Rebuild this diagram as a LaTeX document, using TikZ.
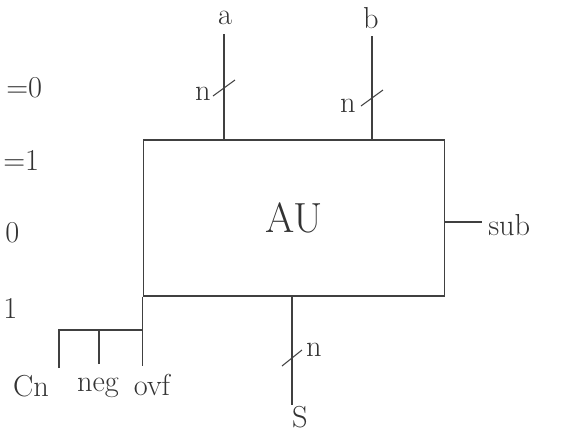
\documentclass[tikz,border=0pt]{standalone}
\usetikzlibrary{positioning}

\begin{document}
\begin{tikzpicture}[x=0.02cm,y=-0.02cm,line width=0.6pt,draw=black!75,
  lbl/.style={font=\LARGE,text=black!80,inner sep=1pt},
  unit/.style={draw,minimum width=6.04cm,minimum height=3.12cm,inner sep=0pt,
    font=\fontsize{24}{26}\selectfont,text=black!80}]
\useasboundingbox (0,0) rectangle (576,433);
% the unit
\node[unit] (au) at (294,218) {AU};
% inputs a and b
\node[lbl] (a) at (225,18) {a};
\node[lbl] (b) at (371,18) {b};
\coordinate (atop) at (224,34);
\coordinate (btop) at (372,36);
\draw (atop) -- (atop |- au.north);
\draw (btop) -- (btop |- au.north);
\coordinate (sla) at (224,88);
\coordinate (slb) at (372,98);
\draw (sla) ++(-11,8) -- ++(22,-16);
\draw (slb) ++(-11,8) -- ++(22,-16);
\node[lbl] (na) at (203,94) {n};
\node[lbl] (nb) at (348,106) {n};
% output sub
\coordinate (subend) at (482,222);
\draw (au.east |- subend) -- (subend);
\node[lbl,anchor=west] (sub) at (486,225) {sub};
% select S
\coordinate (send) at (292,405);
\draw (au.south -| send) -- (send);
\coordinate (sls) at (292,358);
\draw (sls) ++(-10,8) -- ++(20,-16);
\node[lbl] (ns) at (314,350) {n};
\node[lbl] (S) at (300,417) {S};
% flags
\coordinate (bus) at (au.south west |- 0,330);
\coordinate (cnend) at (59,368);
\coordinate (negend) at (99,364);
\coordinate (ovfend) at (au.south west |- 0,366);
\draw (au.south west) -- (ovfend);
\draw (cnend) -- (cnend |- bus) -- (bus);
\draw (negend) -- (negend |- bus);
\node[lbl] (cn) at (31,386) {Cn};
\node[lbl] (neg) at (98,388) {neg};
\node[lbl] (ovf) at (152,385) {ovf};
% notes on the left
\node[lbl,anchor=west] (eq1) at (4,88) {=0};
\node[lbl,anchor=west] (eq2) at (1,160) {=1};
\node[lbl,anchor=west] (eq3) at (3,233) {0};
\node[lbl,anchor=west] (eq4) at (1,308) {1};
\end{tikzpicture}
\end{document}
